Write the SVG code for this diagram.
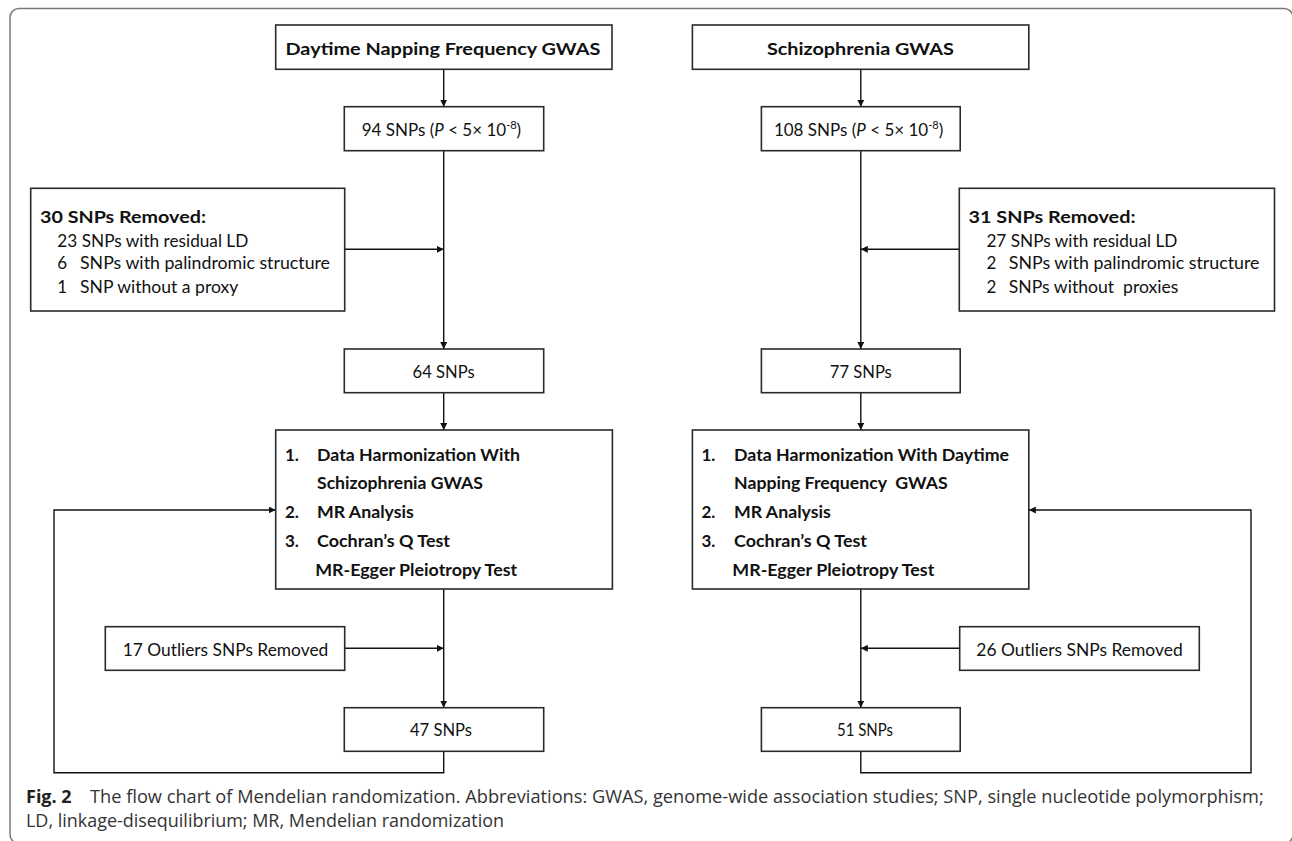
<svg xmlns="http://www.w3.org/2000/svg" width="1292" height="841" viewBox="0 0 1292 841">
<style>
.frame{fill:none;stroke:#7a7a7a;stroke-width:1.5}
.box{fill:#fff;stroke:#2a2a2a;stroke-width:1.6}
.t{font-family:Lato,"Open Sans",sans-serif;font-size:17px;fill:#111}
.b{font-weight:bold}
.c{text-anchor:middle}
.conn{fill:none;stroke:#111;stroke-width:1.4}
.cap{font-family:"Open Sans","Noto Sans",sans-serif;font-size:18px;fill:#333}
</style>
<defs>
<marker id="ah" viewBox="0 0 8 8" refX="8" refY="4" markerWidth="7" markerHeight="7" markerUnits="userSpaceOnUse" orient="auto">
<path d="M0,0 L8,4 L0,8 z" fill="#111"/>
</marker>
</defs>
<rect class="frame" x="10" y="8.5" width="1283" height="835" rx="9"/>

<g id="connectors">
<line class="conn" x1="443.7" y1="69.3" x2="443.7" y2="106.7" marker-end="url(#ah)"/>
<line class="conn" x1="443.7" y1="150.7" x2="443.7" y2="349" marker-end="url(#ah)"/>
<line class="conn" x1="344.7" y1="249.3" x2="443.7" y2="249.3" marker-end="url(#ah)"/>
<line class="conn" x1="443.7" y1="392.7" x2="443.7" y2="430" marker-end="url(#ah)"/>
<line class="conn" x1="443.7" y1="589" x2="443.7" y2="707.7" marker-end="url(#ah)"/>
<line class="conn" x1="344.7" y1="648.3" x2="443.7" y2="648.3" marker-end="url(#ah)"/>
<polyline class="conn" points="443.7,751.3 443.7,772.7 54,772.7 54,510 275.7,510" marker-end="url(#ah)"/>
<line class="conn" x1="860.8" y1="69.3" x2="860.8" y2="106.7" marker-end="url(#ah)"/>
<line class="conn" x1="860.8" y1="150.7" x2="860.8" y2="349" marker-end="url(#ah)"/>
<line class="conn" x1="959.3" y1="249.3" x2="860.8" y2="249.3" marker-end="url(#ah)"/>
<line class="conn" x1="860.8" y1="392.7" x2="860.8" y2="430" marker-end="url(#ah)"/>
<line class="conn" x1="860.8" y1="589" x2="860.8" y2="707.7" marker-end="url(#ah)"/>
<line class="conn" x1="959.7" y1="648.3" x2="860.8" y2="648.3" marker-end="url(#ah)"/>
<polyline class="conn" points="860.8,751.3 860.8,772.7 1251,772.7 1251,510 1028.8,510" marker-end="url(#ah)"/>
</g>

<g id="daytime-gwas">
<rect class="box" x="275.7" y="25" width="336.3" height="44.3"/>
<text class="t b c" x="443" y="55" font-size="19" textLength="315" lengthAdjust="spacingAndGlyphs">Daytime Napping Frequency GWAS</text>
</g>
<g id="schizo-gwas">
<rect class="box" x="692.4" y="25" width="336.4" height="44.3"/>
<text class="t b c" x="860.4" y="55" font-size="19" textLength="187" lengthAdjust="spacingAndGlyphs">Schizophrenia GWAS</text>
</g>

<g id="snps94">
<rect class="box" x="344.3" y="106.7" width="199.4" height="44"/>
<text class="t" x="361.7" y="136">94 SNPs (<tspan font-style="italic">P</tspan> &lt; 5× 10<tspan font-size="11" dy="-7">-8</tspan><tspan dy="7">)</tspan></text>
</g>
<g id="snps108">
<rect class="box" x="761.4" y="106.7" width="198.8" height="44"/>
<text class="t" x="773.9" y="136">108 SNPs (<tspan font-style="italic">P</tspan> &lt; 5× 10<tspan font-size="11" dy="-7">-8</tspan><tspan dy="7">)</tspan></text>
</g>

<g id="removed30">
<rect class="box" x="30.7" y="188.3" width="314" height="122.7"/>
<text class="t b" x="40" y="222.7" font-size="19" textLength="166" lengthAdjust="spacingAndGlyphs">30 SNPs Removed:</text>
<text class="t" x="57.3" y="246.7" textLength="191" lengthAdjust="spacingAndGlyphs">23 SNPs with residual LD</text>
<text class="t" x="57.3" y="269.3">6</text>
<text class="t" x="80" y="269.3" textLength="250" lengthAdjust="spacingAndGlyphs">SNPs with palindromic structure</text>
<text class="t" x="57.3" y="292.7">1</text>
<text class="t" x="80" y="292.7" textLength="158.3" lengthAdjust="spacingAndGlyphs">SNP without a proxy</text>
</g>
<g id="removed31">
<rect class="box" x="959.3" y="188.3" width="315.2" height="122.7"/>
<text class="t b" x="968.5" y="222.7" font-size="19" textLength="167" lengthAdjust="spacingAndGlyphs">31 SNPs Removed:</text>
<text class="t" x="986.4" y="246.7" textLength="191" lengthAdjust="spacingAndGlyphs">27 SNPs with residual LD</text>
<text class="t" x="986.4" y="269.3">2</text>
<text class="t" x="1008.8" y="269.3" textLength="250.7" lengthAdjust="spacingAndGlyphs">SNPs with palindromic structure</text>
<text class="t" x="986.4" y="292.7">2</text>
<text class="t" x="1008.8" y="292.7" textLength="169.7" lengthAdjust="spacingAndGlyphs" xml:space="preserve">SNPs without  proxies</text>
</g>

<g id="snps64">
<rect class="box" x="344.3" y="349" width="199.4" height="43.7"/>
<text class="t c" x="443.6" y="378" textLength="62" lengthAdjust="spacingAndGlyphs">64 SNPs</text>
</g>
<g id="snps77">
<rect class="box" x="761.4" y="349" width="198.8" height="43.7"/>
<text class="t c" x="860.8" y="378" textLength="62" lengthAdjust="spacingAndGlyphs">77 SNPs</text>
</g>

<g id="analysis-left">
<rect class="box" x="275.7" y="430" width="336.7" height="159"/>
<text class="t b" x="285" y="460.7">1.</text>
<text class="t b" x="317" y="460.7" textLength="203" lengthAdjust="spacingAndGlyphs">Data Harmonization With</text>
<text class="t b" x="317" y="489.3" textLength="166" lengthAdjust="spacingAndGlyphs">Schizophrenia GWAS</text>
<text class="t b" x="285" y="518.3">2.</text>
<text class="t b" x="317" y="518.3" textLength="96.8" lengthAdjust="spacingAndGlyphs">MR Analysis</text>
<text class="t b" x="285" y="547">3.</text>
<text class="t b" x="317" y="547" textLength="133" lengthAdjust="spacingAndGlyphs">Cochran’s Q Test</text>
<text class="t b" x="315.2" y="575.7" textLength="202" lengthAdjust="spacingAndGlyphs">MR-Egger Pleiotropy Test</text>
</g>
<g id="analysis-right">
<rect class="box" x="692.4" y="430" width="336.4" height="159"/>
<text class="t b" x="701.5" y="460.7">1.</text>
<text class="t b" x="734" y="460.7" textLength="275" lengthAdjust="spacingAndGlyphs">Data Harmonization With Daytime</text>
<text class="t b" x="734" y="489.3" textLength="213.7" lengthAdjust="spacingAndGlyphs" xml:space="preserve">Napping Frequency  GWAS</text>
<text class="t b" x="701.5" y="518.3">2.</text>
<text class="t b" x="734" y="518.3" textLength="96.8" lengthAdjust="spacingAndGlyphs">MR Analysis</text>
<text class="t b" x="701.5" y="547">3.</text>
<text class="t b" x="734" y="547" textLength="133" lengthAdjust="spacingAndGlyphs">Cochran’s Q Test</text>
<text class="t b" x="732.3" y="575.7" textLength="202" lengthAdjust="spacingAndGlyphs">MR-Egger Pleiotropy Test</text>
</g>

<g id="outliers17">
<rect class="box" x="105.3" y="626.7" width="239.4" height="43.6"/>
<text class="t c" x="225.5" y="655.5" textLength="205.6" lengthAdjust="spacingAndGlyphs">17 Outliers SNPs Removed</text>
</g>
<g id="outliers26">
<rect class="box" x="959.7" y="626.7" width="239.6" height="43.6"/>
<text class="t c" x="1079.5" y="655.5" textLength="206.4" lengthAdjust="spacingAndGlyphs">26 Outliers SNPs Removed</text>
</g>

<g id="snps47">
<rect class="box" x="344.3" y="707.7" width="199.4" height="43.6"/>
<text class="t c" x="441" y="736" textLength="62" lengthAdjust="spacingAndGlyphs">47 SNPs</text>
</g>
<g id="snps51">
<rect class="box" x="761.4" y="707.7" width="198.8" height="43.6"/>
<text class="t c" x="865" y="736" textLength="56" lengthAdjust="spacingAndGlyphs">51 SNPs</text>
</g>

<g id="caption">
<text class="cap" x="26" y="802.7"><tspan font-weight="bold" fill="#231f20">Fig. 2</tspan></text>
<text class="cap" x="90" y="802.7" textLength="1173.7" lengthAdjust="spacingAndGlyphs">The flow chart of Mendelian randomization. Abbreviations: GWAS, genome-wide association studies; SNP, single nucleotide polymorphism;</text>
<text class="cap" x="26" y="826.7" textLength="478" lengthAdjust="spacingAndGlyphs">LD, linkage-disequilibrium; MR, Mendelian randomization</text>
</g>
</svg>
